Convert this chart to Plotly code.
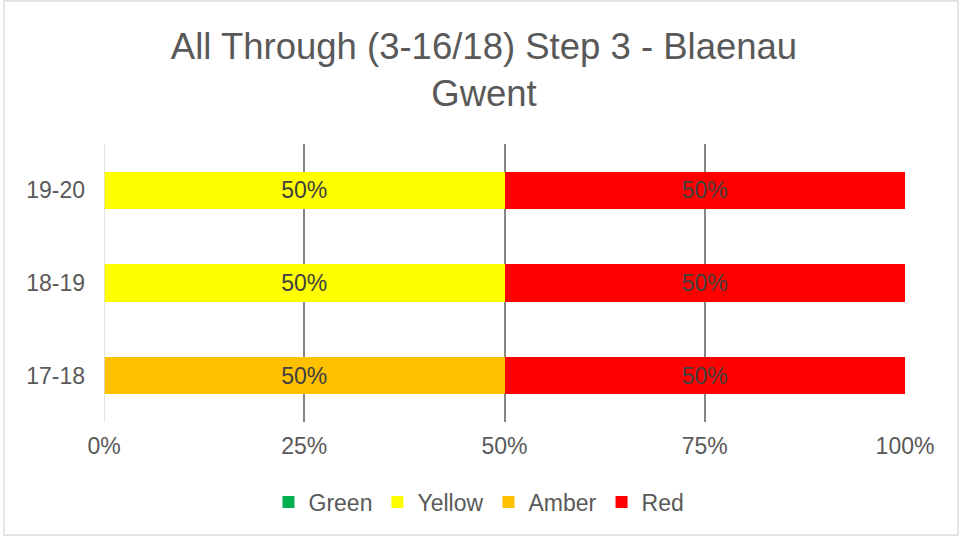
import plotly.graph_objects as go

categories = ["17-18", "18-19", "19-20"]
green = [0, 0, 0]
yellow = [0, 50, 50]
amber = [50, 0, 0]
red = [50, 50, 50]
x_ticks = [0, 25, 50, 75, 100]
x_tick_labels = ["0%", "25%", "50%", "75%", "100%"]

series = [
    ("Green", green, "#00B050"),
    ("Yellow", yellow, "#FFFF00"),
    ("Amber", amber, "#FFC000"),
    ("Red", red, "#FF0000"),
]

FONT = "Liberation Sans, Arial"

fig = go.Figure()
for name, vals, color in series:
    fig.add_trace(go.Bar(
        y=categories, x=vals, name=name, orientation="h",
        marker=dict(color=color, line=dict(width=0)),
        text=[f"{v}%" if v > 0 else "" for v in vals],
        textposition="inside", insidetextanchor="middle",
        constraintext="none",
        textfont=dict(size=23, color="#404040", family=FONT),
        width=0.4,
    ))

L, R, T, B = 104, 58, 144, 117
W, H = 963, 539
pw, ph = W - L - R, H - T - B

fig.update_layout(
    width=W, height=H,
    barmode="stack",
    margin=dict(l=L, r=R, t=T, b=B, autoexpand=False),
    paper_bgcolor="white", plot_bgcolor="white",
    font=dict(family=FONT, color="#595959"),
    title=dict(text="All Through (3-16/18) Step 3 - Blaenau<br>Gwent",
               x=484 / W, xanchor="center", y=1 - 59 / H, yanchor="middle",
               font=dict(size=36.5, color="#595959")),
    xaxis=dict(range=[0, 100], tickvals=x_ticks, ticktext=x_tick_labels,
               showgrid=True, gridcolor="#868686", gridwidth=2,
               zeroline=False, showline=False,
               tickfont=dict(size=23, color="#595959"),
               ticks="", ticklabelstandoff=8, fixedrange=True),
    yaxis=dict(showgrid=False, zeroline=False, showline=False,
               tickfont=dict(size=23, color="#595959"),
               ticklabelstandoff=18, range=[-0.5, 2.5], fixedrange=True),
    legend=dict(orientation="h", x=(479 - L) / pw, xanchor="center",
                y=(422 - 502) / ph, yanchor="middle",
                font=dict(size=23, color="#595959"),
                itemwidth=30, traceorder="normal"),
    showlegend=True,
)

# light 0% axis line
fig.add_shape(type="line", xref="x", yref="paper", x0=0, x1=0, y0=0, y1=1,
              line=dict(color="#D9D9D9", width=1.5))
# chart area border
fig.add_shape(type="rect", xref="paper", yref="paper",
              x0=(4 - L) / pw, x1=(958 - L) / pw,
              y0=(422 - 535) / ph, y1=(422 - 1) / ph,
              line=dict(color="#D9D9D9", width=1.3), fillcolor="rgba(0,0,0,0)")

fig.write_html("out.html", config={"displayModeBar": False},
               post_script="document.body.style.margin='0';document.body.style.padding='0';")
